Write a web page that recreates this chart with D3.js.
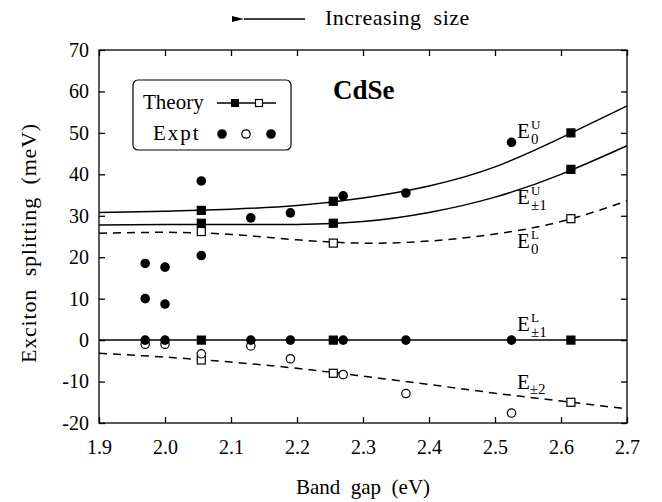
<!DOCTYPE html>
<html lang="en">
<head>
<meta charset="UTF-8"/>
<title>CdSe exciton splitting</title>
<script src="https://d3js.org/d3.v7.min.js"></script>
<style>
body { margin: 0; background: #fff; }
.axis path, .axis line { stroke: #000; stroke-width: 1.3; }
.curve { fill: none; stroke: #000; stroke-width: 1.5; }
.dashed { stroke-dasharray: 8 6; }
</style>
</head>
<body>
<svg width="662" height="502"></svg>
<script>
// axis ticks
const xTicks = [1.9, 2.0, 2.1, 2.2, 2.3, 2.4, 2.5, 2.6, 2.7];
const yTicks = [-20, -10, 0, 10, 20, 30, 40, 50, 60, 70];

// theory curves
const curveX = [1.9, 2.0, 2.1, 2.2, 2.3, 2.4, 2.5, 2.6, 2.7];
const curveE0U = [30.8, 31.1, 31.6, 32.5, 34.3, 37.2, 41.8, 48.8, 56.5];
const curveE1U = [27.8, 27.9, 27.9, 27.9, 28.6, 30.8, 34.5, 40.0, 46.9];
const curveE0L = [25.8, 26.0, 25.5, 24.2, 23.4, 23.9, 25.6, 28.6, 33.6];
const curveE1L = [0, 0, 0, 0, 0, 0, 0, 0, 0];
const curveE2 = [-3.2, -4.1, -5.3, -6.8, -8.7, -10.7, -12.8, -14.7, -16.6];

// theory points
const theoryX = [2.055, 2.255, 2.615];
const theoryE0U = [31.3, 33.5, 50.0];
const theoryE1U = [28.2, 28.2, 41.2];
const theoryE0L = [26.2, 23.4, 29.3];
const theoryE1L = [0, 0, 0];
const theoryE2 = [-4.8, -8.0, -15.0];

// experiment
const exptFilledX = [1.97, 1.97, 2.0, 2.0, 2.055, 2.055, 2.13, 2.19, 2.27, 2.365, 2.525,
                     1.97, 2.0, 2.13, 2.19, 2.27, 2.365, 2.525];
const exptFilledY = [18.5, 10.0, 17.6, 8.7, 38.4, 20.4, 29.5, 30.7, 34.8, 35.5, 47.7,
                     0, 0, 0, 0, 0, 0, 0];
const exptOpenX = [1.97, 2.0, 2.055, 2.13, 2.19, 2.27, 2.365, 2.525];
const exptOpenY = [-1.0, -1.0, -3.3, -1.4, -4.5, -8.3, -12.9, -17.6];

const serif = '"Liberation Serif", "Times New Roman", Times, "DejaVu Serif", serif';
const svg = d3.select('svg').style('font-family', serif);
const mLeft = 99, mRight = 627, mTop = 50, mBottom = 423;

const x = d3.scaleLinear().domain([1.9, 2.7]).range([mLeft, mRight]);
const y = d3.scaleLinear().domain([-20, 70]).range([mBottom, mTop]);

function txt(px, py, s, size) {
  return svg.append('text').attr('x', px).attr('y', py)
    .style('font-family', serif).style('font-size', size + 'px')
    .attr('fill', '#000').text(s);
}

// frame and axes, inward ticks
svg.append('rect')
  .attr('x', mLeft).attr('y', mTop)
  .attr('width', mRight - mLeft).attr('height', mBottom - mTop)
  .attr('fill', 'none').attr('stroke', '#000').attr('stroke-width', 1.3);

svg.append('g').attr('class', 'axis')
  .attr('transform', `translate(0,${mBottom})`)
  .call(d3.axisBottom(x).tickValues(xTicks).tickFormat(d3.format('.1f'))
    .tickSizeInner(-6).tickSizeOuter(0).tickPadding(17));

svg.append('g').attr('class', 'axis')
  .attr('transform', `translate(0,${mTop})`)
  .call(d3.axisTop(x).tickValues(xTicks).tickFormat('')
    .tickSizeInner(-6).tickSizeOuter(0));

svg.append('g').attr('class', 'axis')
  .attr('transform', `translate(${mLeft},0)`)
  .call(d3.axisLeft(y).tickValues(yTicks).tickFormat(d => String(d))
    .tickSizeInner(-6).tickSizeOuter(0).tickPadding(10));

svg.append('g').attr('class', 'axis')
  .attr('transform', `translate(${mRight},0)`)
  .call(d3.axisRight(y).tickValues(yTicks).tickFormat('')
    .tickSizeInner(-6).tickSizeOuter(0));

svg.selectAll('.axis').attr('font-family', null).attr('font-size', null);
svg.selectAll('.axis text')
  .style('font-family', serif).style('font-size', '20px').attr('fill', '#000');
svg.selectAll('.axis .domain').remove();

// curves
const line = d3.line()
  .x(d => x(d[0])).y(d => y(d[1]))
  .curve(d3.curveNatural);

const curves = [
  { v: curveE0U, dash: false },
  { v: curveE1U, dash: false },
  { v: curveE0L, dash: true },
  { v: curveE1L, dash: false },
  { v: curveE2, dash: true }
];
curves.forEach(c => {
  svg.append('path')
    .attr('class', c.dash ? 'curve dashed' : 'curve')
    .attr('d', line(curveX.map((xx, i) => [xx, c.v[i]])));
});

// theory squares
const sq = 8;
function squares(vals, filled) {
  svg.append('g').selectAll('rect')
    .data(theoryX.map((xx, i) => [xx, vals[i]]))
    .join('rect')
    .attr('x', d => x(d[0]) - sq / 2)
    .attr('y', d => y(d[1]) - sq / 2)
    .attr('width', sq).attr('height', sq)
    .attr('fill', filled ? '#000' : '#fff')
    .attr('stroke', '#000').attr('stroke-width', 1.2);
}
squares(theoryE0U, true);
squares(theoryE1U, true);
squares(theoryE0L, false);
squares(theoryE1L, true);
squares(theoryE2, false);

// experiment circles
svg.append('g').selectAll('circle')
  .data(exptOpenX.map((xx, i) => [xx, exptOpenY[i]]))
  .join('circle')
  .attr('cx', d => x(d[0])).attr('cy', d => y(d[1]))
  .attr('r', 4.2)
  .attr('fill', '#fff').attr('stroke', '#000').attr('stroke-width', 1.2);

svg.append('g').selectAll('circle')
  .data(exptFilledX.map((xx, i) => [xx, exptFilledY[i]]))
  .join('circle')
  .attr('cx', d => x(d[0])).attr('cy', d => y(d[1]))
  .attr('r', 4.8)
  .attr('fill', '#000');

// curve labels E with sub/superscripts
function elabel(px, py, sub, sup) {
  const t = txt(px, py, null, 21);
  t.append('tspan').text('E');
  if (sup) {
    t.append('tspan').attr('x', px + 14).attr('dy', -9)
      .style('font-size', '13px').text(sup);
    t.append('tspan').attr('x', px + 14).attr('dy', 15)
      .style('font-size', '15px').text(sub);
  } else {
    t.append('tspan').attr('dy', 5)
      .style('font-size', '15px').text(sub);
  }
}
elabel(517, 138, '0', 'U');
elabel(517, 204, '±1', 'U');
elabel(517, 248, '0', 'L');
elabel(517, 331, '±1', 'L');
elabel(517, 389, '±2', null);

// CdSe title
txt(333, 99, 'CdSe', 27).style('font-weight', 'bold');

// legend
svg.append('rect')
  .attr('x', 133).attr('y', 80).attr('width', 158).attr('height', 70)
  .attr('rx', 5).attr('fill', '#fff').attr('stroke', '#000').attr('stroke-width', 1.2);
txt(143, 109, 'Theory', 21);
txt(153, 140, 'Expt', 21).style('letter-spacing', '2px');
svg.append('line').attr('x1', 217).attr('x2', 276).attr('y1', 103).attr('y2', 103)
  .attr('stroke', '#000').attr('stroke-width', 1.5);
svg.append('rect').attr('x', 231).attr('y', 99).attr('width', 8).attr('height', 8).attr('fill', '#000');
svg.append('rect').attr('x', 255.5).attr('y', 99.5).attr('width', 7).attr('height', 7)
  .attr('fill', '#fff').attr('stroke', '#000').attr('stroke-width', 1.2);
[[222, true], [246, false], [271, true]].forEach(c => {
  svg.append('circle').attr('cx', c[0]).attr('cy', 134).attr('r', c[1] ? 4.8 : 4.2)
    .attr('fill', c[1] ? '#000' : '#fff').attr('stroke', c[1] ? 'none' : '#000')
    .attr('stroke-width', 1.2);
});

// increasing size arrow
svg.append('defs').append('marker')
  .attr('id', 'arr').attr('viewBox', '0 0 12 6').attr('refX', 0).attr('refY', 3)
  .attr('markerWidth', 12).attr('markerHeight', 6).attr('markerUnits', 'userSpaceOnUse')
  .attr('orient', 'auto-start-reverse')
  .append('path').attr('d', 'M0,3 L12,0 L12,6 Z').attr('fill', '#000');
svg.append('line').attr('x1', 244).attr('x2', 305).attr('y1', 19).attr('y2', 19)
  .attr('stroke', '#000').attr('stroke-width', 1.3).attr('marker-start', 'url(#arr)');
txt(325, 25, 'Increasing\u00a0\u00a0size', 22).style('letter-spacing', '0.5px');

// axis titles
txt(363, 494, 'Band\u00a0\u00a0gap\u00a0\u00a0(eV)', 21).attr('text-anchor', 'middle');
txt(0, 0, 'Exciton\u00a0\u00a0splitting\u00a0\u00a0(meV)', 22)
  .attr('transform', 'translate(36,243) rotate(-90)')
  .attr('text-anchor', 'middle').style('letter-spacing', '0.8px');
</script>
</body>
</html>
